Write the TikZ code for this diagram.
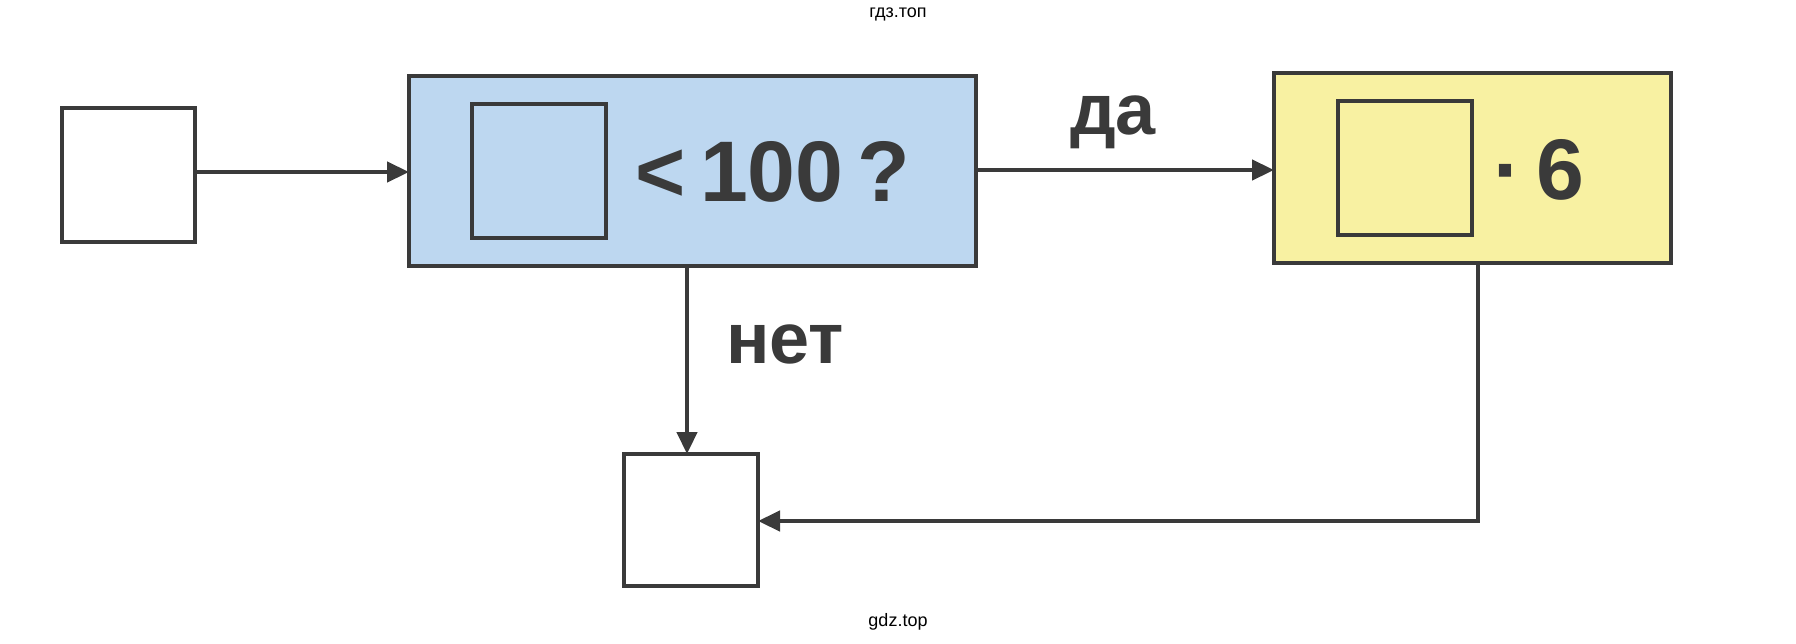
\documentclass[tikz,border=0pt]{standalone}
\usepackage{fontspec}
\setmainfont{Liberation Sans}
\usetikzlibrary{arrows.meta}
\definecolor{lblue}{HTML}{BDD7F0}
\definecolor{lyel}{HTML}{F8F1A2}
\definecolor{ink}{HTML}{3A3A3A}
\begin{document}
\begin{tikzpicture}[x=1pt,y=-1pt,
  bx/.style={draw=ink,line width=4.5pt},
  arr/.style={draw=ink,line width=4.5pt,-{Triangle[length=22pt,width=20pt]}},
  big/.style={font=\fontsize{86}{86}\selectfont\bfseries,text=ink},
  lab/.style={font=\fontsize{72}{72}\selectfont\bfseries,text=ink},
  wm/.style={font=\fontsize{18}{18}\selectfont,text=black}]
\useasboundingbox[fill=white] (0,0) rectangle (1796,643);
\node[wm] (w1) at (898,14) {гдз.топ};
\node[wm] (w2) at (898,622) {gdz.top};
\draw[bx] (62,108) rectangle (195,242); \coordinate (s) at (195,172);
\draw[bx,fill=lblue] (409,76) rectangle (976,266);
\draw[bx] (472,104) rectangle (606,238);
\node[big,anchor=west] (t1) at (632,172) {<\,100\,?};
\draw[bx,fill=lyel] (1274,73) rectangle (1671,263);
\draw[bx] (1338,101) rectangle (1472,235);
\node[big,anchor=west] (t2) at (1490,170) {·\,6};
\draw[bx] (624,454) rectangle (758,586);
\coordinate (bl) at (409,172);
\coordinate (br) at (976,170); \coordinate (yl) at (1274,170);
\coordinate (bd) at (687,266); \coordinate (bt) at (687,454);
\coordinate (yd) at (1478,263); \coordinate (yc) at (1478,521); \coordinate (bb) at (758,521);
\draw[arr] (s) -- (bl);
\draw[arr] (br) -- (yl);
\draw[arr] (bd) -- (bt);
\draw[arr] (yd) -- (yc) -- (bb);
\node[lab] (da) at (1113,122) {да};
\node[lab] (net) at (785,344) {нет};
\end{tikzpicture}
\end{document}
